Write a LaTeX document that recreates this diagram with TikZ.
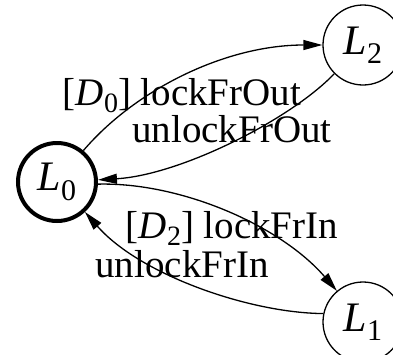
\documentclass[tikz,border=0pt]{standalone}
\usepackage{fontspec}
\setmainfont{Liberation Serif}
\usetikzlibrary{arrows.meta}

\newcommand{\locname}[1]{{\itshape L}\raisebox{-0.22em}{\fontsize{30}{30}\selectfont #1}}
\newcommand{\guard}[1]{[{\itshape D}\raisebox{-0.2em}{\fontsize{28}{28}\selectfont #1}]}

\begin{document}
\begin{tikzpicture}[x=1pt,y=-1pt,
  loc/.style={draw, circle, line width=1.3pt, minimum size=80pt, inner sep=0pt,
    font=\fontsize{42}{42}\selectfont},
  initloc/.style={loc, line width=4pt, minimum size=78pt},
  trans/.style={line width=1.3pt, -{Triangle[length=19pt,width=10pt]}},
  lbl/.style={anchor=base, inner sep=0pt, font=\fontsize{39}{39}\selectfont}]
  \useasboundingbox (0,0) rectangle (393,354);
  \clip (0,0) rectangle (393,354);

  % locations
  \node[initloc] (L0) at (57,182) {\locname{0}};
  \node[loc] (L2) at (363,45) {\locname{2}};
  \node[loc] (L1) at (363,322) {\locname{1}};

  % edge labels
  \node[lbl] (g0) at (182,105) {\guard{0} lockFrOut};
  \node[lbl] (u0) at (232,142) {unlockFrOut};
  \node[lbl] (g2) at (232,238) {\guard{2} lockFrIn};
  \node[lbl] (u1) at (182,277) {unlockFrIn};

  % transitions
  \draw[trans] (L0.50) .. controls (135,90) and (225,45) .. (L2.180);
  \draw[trans] (L2.225) .. controls (290,120) and (180,175) .. (L0.3);
  \draw[trans] (L0.-3) .. controls (180,182) and (280,225) .. (L1.130);
  \draw[trans] (L1.168) .. controls (250,313) and (140,275) .. (L0.-47);
\end{tikzpicture}
\end{document}
